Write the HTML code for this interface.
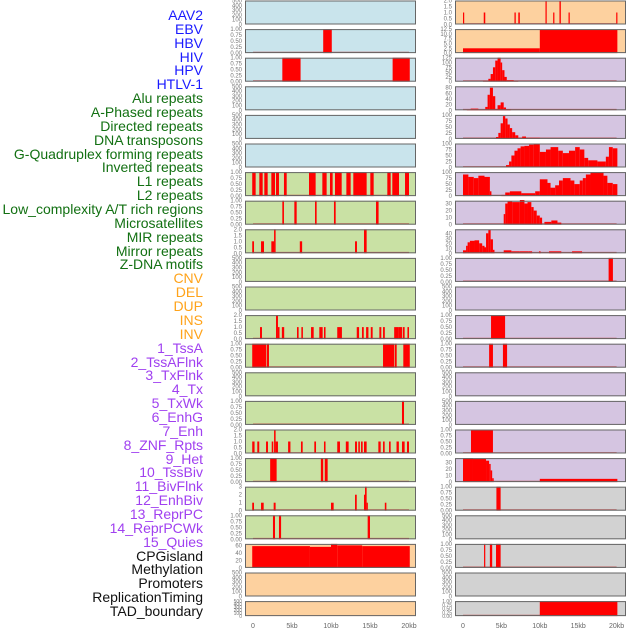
<!DOCTYPE html>
<html><head><meta charset="utf-8">
<style>
html,body{margin:0;padding:0;background:#fff;width:630px;height:630px;overflow:hidden}
#labels{position:absolute;left:0;top:0;width:203px;height:630px}
.lab{position:absolute;right:0;font-family:"Liberation Sans",sans-serif;font-size:14px;line-height:14px;white-space:nowrap;text-align:right}
svg{position:absolute;left:0;top:0}
</style></head>
<body>
<div id="labels"></div>
<svg id="chart" width="630" height="630"></svg>
<script>
const trackNames = ["AAV2","EBV","HBV","HIV","HPV","HTLV-1","Alu repeats","A-Phased repeats","Directed repeats","DNA transposons","G-Quadruplex forming repeats","Inverted repeats","L1 repeats","L2 repeats","Low_complexity A/T rich regions","Microsatellites","MIR repeats","Mirror repeats","Z-DNA motifs","CNV","DEL","DUP","INS","INV","1_TssA","2_TssAFlnk","3_TxFlnk","4_Tx","5_TxWk","6_EnhG","7_Enh","8_ZNF_Rpts","9_Het","10_TssBiv","11_BivFlnk","12_EnhBiv","13_ReprPC","14_ReprPCWk","15_Quies","CPGisland","Methylation","Promoters","ReplicationTiming","TAD_boundary"];
const trackGroups = [6,13,5,15,5];
const groupColors = ["#1a1aff","#127012","#ffa31a","#a040f0","#111111"];

const xTickLabels = ["0","5kb","10kb","15kb","20kb"];
const xTickValues = [0,5,10,15,20];

const leftColors = ["b","b","b","b","b","b","g","g","g","g","g","g","g","g","g","g","g","g","g","o","o","o"];
const rightColors = ["o","o","p","p","p","p","p","p","p","p","p","p","p","p","p","p","p","y","y","y","y","y"];

const T500=[0,100,200,300,400,500], T1=[0,0.25,0.5,0.75,1], T2=[0,0.5,1,1.5,2];
const leftTicks = [T500,T1,T1,T500,T500,T500,T1,T1,T2,T500,T500,T2,T1,T500,T1,T2,T1,[0,1,2,3],T1,[0,20,40,60],T500,T500];
const leftMax = [500,1,1,500,500,500,1,1,2,500,500,2,1,500,1,2,1,3,1,65,500,500];
const rightTicks = [T2,[0,2.5,5,7.5,10,12.5],[0,25,50,75,100,125],[0,20,40,60,80],[0,25,50,75,100],[0,25,50,75,100],[0,25,50,75,100],[0,10,20,30],[0,10,20,30,40],T1,T500,T1,T1,T500,T500,T1,[0,10,20,30],T1,T500,T1,T500,T1];
const rightMax = [2,12.5,125,85,100,100,100,34,48,1,500,1,1,500,500,1,37,1,500,1,500,1];

const leftBars = [
 [],
 [[9.0,10.1,1]],
 [[3.76,6.1,1],[17.9,20.1,1]],
 [],[],[],
 [[-0.1,0.34,1],[0.81,1.24,1],[1.45,1.88,1],[2.35,2.82,1],[2.95,3.33,1],[3.97,4.32,1],[7.18,8.03,1],[8.89,9.44,1],[9.87,10.21,1],[10.51,11.37,1],[11.97,12.52,1],[12.86,14.57,1],[15.04,15.47,1],[17.22,17.65,1],[17.86,18.72,1],[19.49,20.0,1]],
 [[3.76,3.97,1],[5.3,5.6,1],[7.95,8.16,1],[10.38,10.6,1],[15.77,16.1,1]],
 [[-0.1,0.13,1],[1.03,1.41,1],[2.35,2.7,1],[2.7,2.9,2],[6.0,6.3,1],[13.08,13.33,1],[14.23,14.57,2]],
 [],[],
 [[0.9,1.15,1],[2.95,3.2,2],[3.2,3.4,1],[3.7,4.0,1],[5.64,5.85,1],[6.2,6.4,1],[7.44,7.78,1],[8.5,8.93,1],[9.1,9.3,1],[10.8,11.4,1],[13.3,13.6,1],[13.97,14.2,1],[14.5,14.8,1],[15.1,15.34,1],[16.2,16.45,1],[16.67,16.9,1],[18.1,18.7,1],[18.7,19.1,1],[19.2,19.44,1],[19.8,20.0,1]],
 [[-0.1,1.67,1],[1.75,2.05,1],[16.67,18.08,1],[18.16,18.42,1],[19.27,20.1,1]],
 [],
 [[19.1,19.36,1]],
 [[-0.1,0.2,1],[0.55,0.8,1],[1.67,1.92,1],[2.4,2.6,1],[2.7,2.9,2],[2.9,3.2,1],[4.5,4.8,1],[6.15,6.37,1],[7.86,8.08,1],[9.1,9.3,1],[10.8,11.15,1],[11.9,12.26,1],[13.08,13.33,1],[13.5,13.7,1],[13.85,14.06,1],[14.23,14.57,1],[16.07,16.37,1],[16.67,16.88,1],[17.44,17.65,1],[18.4,18.7,1],[19.1,19.44,1],[19.74,20.0,1]],
 [[2.2,2.5,1],[2.5,3.03,1],[8.7,9.0,1],[9.2,9.57,1]],
 [[-0.1,0.13,1],[1.03,1.37,1],[2.65,2.9,1],[10.0,10.34,1],[13.08,13.3,2],[14.23,14.36,2],[14.36,14.57,3],[14.57,14.7,1],[16.9,17.1,1]],
 [[2.56,2.82,1],[3.33,3.6,1],[14.7,15.0,1]],
 [[-0.1,7.3,59],[7.3,10.0,57],[10.0,10.8,65],[10.8,14.0,61],[14.0,20.1,59]],
 [],[]
];
const rightBars = [
 [[0,0.13,1],[2.7,2.9,1],[6.7,6.87,1],[7.2,7.4,1],[10.74,10.9,2],[11.74,11.9,1],[12.56,12.74,2],[13.74,13.9,1],[19.95,20.1,1]],
 [[0,10,2.5],[10,20.1,12.3]],
 [[2.6,3.3,5],[3.3,3.6,15],[3.6,3.9,40],[3.9,4.2,75],[4.2,4.5,110],[4.5,4.9,125],[4.9,5.1,100],[5.1,5.4,60],[5.4,5.7,25],[5.7,6.6,8],[6.6,7.2,3]],
 [[0.5,1.0,3],[1.0,2.0,6],[2.0,2.9,3],[2.9,3.2,12],[3.2,3.5,55],[3.5,3.9,80],[3.9,4.2,50],[4.2,4.5,5],[4.5,4.9,18],[4.9,5.3,28],[5.3,5.6,10],[5.6,6.2,4]],
 [[4.3,4.6,8],[4.6,4.9,25],[4.9,5.2,65],[5.2,5.5,95],[5.5,5.8,85],[5.8,6.1,60],[6.1,6.4,45],[6.4,6.8,28],[6.8,7.2,15],[7.2,7.7,5],[7.7,8.2,10],[8.2,10,5]],
 [[5.6,6.0,10],[6.0,6.3,25],[6.3,6.7,50],[6.7,7.1,70],[7.1,7.5,80],[7.5,8.0,88],[8.0,8.6,90],[8.6,9.2,95],[9.2,10.0,100],[10.0,10.8,65],[10.8,11.4,75],[11.4,12.4,85],[12.4,13.0,70],[13.0,13.8,60],[13.8,14.6,70],[14.6,15.2,85],[15.2,15.8,75],[15.8,16.3,40],[16.3,17.5,30],[17.5,18.6,25],[18.6,19.0,45],[19.0,19.5,85],[19.5,20.1,80]],
 [[0,0.7,90],[0.7,1.4,80],[1.4,2.0,75],[2.0,2.8,85],[2.8,3.5,80],[3.5,3.7,20],[5.0,5.5,5],[5.5,6.1,15],[6.1,7.6,20],[7.6,9.4,12],[9.4,10.0,20],[10.0,11.0,70],[11.0,11.4,55],[11.4,12.0,35],[12.0,12.5,45],[12.5,13.0,65],[13.0,14.0,75],[14.0,14.5,65],[14.5,15.2,50],[15.2,15.6,65],[15.6,16.0,75],[16.0,16.6,90],[16.6,18.3,100],[18.3,18.8,85],[18.8,19.5,55],[19.5,20.1,50]],
 [[5.3,5.5,15],[5.5,5.8,30],[5.8,6.4,33],[6.4,7.4,32],[7.4,8.0,35],[8.0,8.4,30],[8.4,8.9,32],[8.9,9.2,25],[9.2,9.6,20],[9.6,10.0,13],[10.0,10.3,10],[10.6,11.5,4],[11.5,12.3,6],[12.3,12.8,3]],
 [[0,0.4,6],[0.4,0.6,15],[0.6,0.9,22],[0.9,1.5,25],[1.5,2.1,26],[2.1,2.5,20],[2.5,2.8,15],[2.8,3.0,12],[3.0,3.3,40],[3.3,3.6,47],[3.6,3.9,28],[3.9,4.1,7],[5.3,6.3,6],[6.3,7.4,4],[7.4,8.5,4],[8.5,9.0,4],[9.9,10.1,4],[11.2,12.8,4],[14.2,15.5,4]],
 [[18.96,19.52,1]],
 [],
 [[3.65,5.48,1]],
 [[3.4,3.9,1],[5.2,5.74,1]],
 [],[],
 [[1.04,3.9,1]],
 [[0,1.3,37],[1.3,3.0,36],[3.0,3.4,33],[3.4,3.6,28],[3.6,3.8,18],[3.8,4.0,6],[10,20.1,5]],
 [[4.35,4.9,1]],
 [],
 [[2.74,2.9,1],[3.5,3.8,1],[4.3,4.9,1]],
 [],
 [[10.0,20.1,1]]
];

const bgMap = {b:"#c9e4ec",g:"#c9e1a4",o:"#fdd19f",p:"#d5c5e1",y:"#d2d2d2"};
const NS="http://www.w3.org/2000/svg";
const svg=document.getElementById('chart');
function mk(tag,attrs,parent){const e=document.createElementNS(NS,tag);for(const k in attrs)e.setAttribute(k,attrs[k]);(parent||svg).appendChild(e);return e;}
function decimals(arr){let d=0;arr.forEach(v=>{const s=String(v);const p=s.indexOf('.');if(p>=0)d=Math.max(d,s.length-p-1);});return d;}

const labDiv=document.getElementById('labels');
let gi=0,gc=0;
trackNames.forEach((n,i)=>{
  while(gc>=trackGroups[gi]){gi++;gc=0;}
  gc++;
  const d=document.createElement('div');
  d.className='lab';
  d.style.top=(8+i*13.86)+'px';
  d.style.color=groupColors[gi];
  d.textContent=n;
  
  
  labDiv.appendChild(d);
});

const cols=[
 {left:245,zero:253,scale:7.8,colors:leftColors,ticks:leftTicks,max:leftMax,bars:leftBars,name:'left'},
 {left:455,zero:463,scale:7.68,colors:rightColors,ticks:rightTicks,max:rightMax,bars:rightBars,name:'right'}
];
cols.forEach(c=>{
  const xs=kb=>c.zero+kb*c.scale;
  for(let i=0;i<22;i++){
    const top=0.5+i*28.6, h=(i===21)?15:24, w=171;
    const g=mk('g',{});
    
    
    mk('rect',{x:c.left,y:top,width:w,height:h,fill:bgMap[c.colors[i]]},g);
    const ys=v=>top+h-v/c.max[i]*h;
    const bars=c.bars[i];
    if(bars.length){
      const bl=mk('line',{x1:xs(0),x2:xs(20),y1:top+h-0.8,y2:top+h-0.8,stroke:'#c03a3a','stroke-width':1.2,opacity:0.8},g);
      
      
    }
    bars.forEach(b=>{
      let x0=Math.max(xs(b[0]),c.left),x1=Math.min(xs(b[1]),c.left+w);
      const r=mk('rect',{x:x0,y:ys(b[2]),width:Math.max(1.2,x1-x0),height:top+h-ys(b[2]),fill:'#ff0000'},g);
      
      
    });
    mk('rect',{x:c.left+0.5,y:top+0.5,width:w-1,height:h-1,fill:'none',stroke:'#666','stroke-width':1},g);
    const dec=decimals(c.ticks[i]);
    c.ticks[i].forEach(t=>{
      const tx=mk('text',{x:c.left-3,y:ys(t)+2,'text-anchor':'end','font-size':(i===21?5:6),fill:'#777','font-family':'Liberation Sans, sans-serif'},g);
      tx.textContent=t.toFixed(dec);
      
      
    });
  }
  xTickValues.forEach((v,k)=>{
    const t=mk('text',{x:xs(v),y:628,'text-anchor':'middle','font-size':7,fill:'#666','font-family':'Liberation Sans, sans-serif'});
    t.textContent=xTickLabels[k];
    
    
  });
});
</script>
</body></html>
